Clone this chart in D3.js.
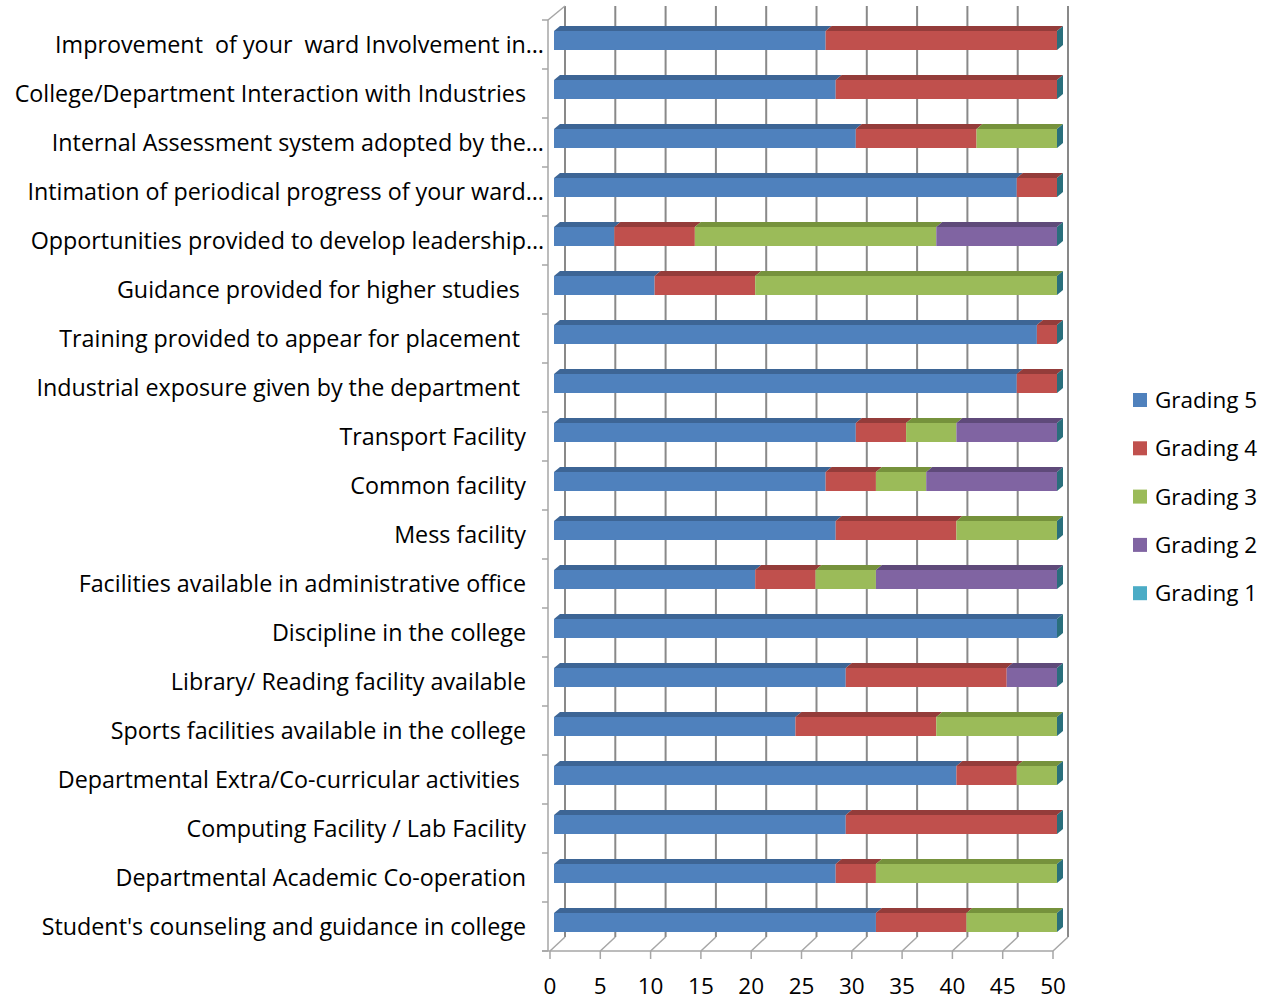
<!DOCTYPE html>
<html>
<head>
<meta charset="utf-8">
<script src="https://cdn.jsdelivr.net/npm/d3@7"></script>
<style>
  body { margin: 0; background: #fff; }
  text { font-family: "Open Sans", "Noto Sans", sans-serif; fill: #000; white-space: pre; }
</style>
</head>
<body>
<svg id="chart" width="1274" height="1001"></svg>
<script>
// categories, top to bottom as drawn
var categories = [
  "Improvement  of your  ward Involvement in\u2026",
  "College/Department Interaction with Industries",
  "Internal Assessment system adopted by the\u2026",
  "Intimation of periodical progress of your ward\u2026",
  "Opportunities provided to develop leadership\u2026",
  "Guidance provided for higher studies ",
  "Training provided to appear for placement ",
  "Industrial exposure given by the department ",
  "Transport Facility",
  "Common facility",
  "Mess facility",
  "Facilities available in administrative office",
  "Discipline in the college",
  "Library/ Reading facility available",
  "Sports facilities available in the college",
  "Departmental Extra/Co-curricular activities ",
  "Computing Facility / Lab Facility",
  "Departmental Academic Co-operation",
  "Student's counseling and guidance in college"
];

var seriesNames = ["Grading 5", "Grading 4", "Grading 3", "Grading 2", "Grading 1"];

var grading5 = [27, 28, 30, 46, 6, 10, 48, 46, 30, 27, 28, 20, 50, 29, 24, 40, 29, 28, 32];
var grading4 = [23, 22, 12, 4, 8, 10, 2, 4, 5, 5, 12, 6, 0, 16, 14, 6, 21, 4, 9];
var grading3 = [0, 0, 8, 0, 24, 30, 0, 0, 5, 5, 10, 6, 0, 0, 12, 4, 0, 18, 9];
var grading2 = [0, 0, 0, 0, 12, 0, 0, 0, 10, 13, 0, 18, 0, 5, 0, 0, 0, 0, 0];
var grading1 = [0, 0, 0, 0, 0, 0, 0, 0, 0, 0, 0, 0, 0, 0, 0, 0, 0, 0, 0];

var xTicks = [0, 5, 10, 15, 20, 25, 30, 35, 40, 45, 50];

var colors = ["#4f81bd", "#c0504d", "#9bbb59", "#8064a2", "#4bacc6"];
var topColors = ["#3d6595", "#943c3a", "#76923c", "#5f4a7a", "#31859c"];
var sideColor = "#2a6f7c";

var svg = d3.select("#chart");

// fake 3D geometry
var depthX = 15, depthY = -14;   // floor depth offset
var barOff = 4;                  // bar front face sits a bit into the depth
var barDX = 6, barDY = 5;
var barH = 19;

var x = d3.scaleLinear().domain([0, 50]).range([550, 1053]);
var y = d3.scaleBand().domain(categories).range([20, 951]);

var yTop = y.range()[0], yBot = y.range()[1];

// stacked table
var table = categories.map(function(c, i) {
  return {cat: c, "Grading 5": grading5[i], "Grading 4": grading4[i], "Grading 3": grading3[i],
          "Grading 2": grading2[i], "Grading 1": grading1[i]};
});
var stacked = d3.stack().keys(seriesNames)(table);

var gridColor = "#898989";
var axisColor = "#a6a6a6";

// back wall gridlines
svg.append("g").selectAll("line")
  .data(xTicks)
  .enter()
  .append("line")
  .attr("x1", function(d) { return x(d) + depthX; })
  .attr("x2", function(d) { return x(d) + depthX; })
  .attr("y1", yTop + depthY)
  .attr("y2", yBot + depthY)
  .style("stroke", gridColor)
  .style("stroke-width", 2);

// floor diagonals
svg.append("g").selectAll("line")
  .data(xTicks)
  .enter()
  .append("line")
  .attr("x1", function(d) { return x(d); })
  .attr("y1", yBot)
  .attr("x2", function(d) { return x(d) + depthX; })
  .attr("y2", yBot + depthY)
  .style("stroke", axisColor)
  .style("stroke-width", 1.5);

// left wall top edge
svg.append("line")
  .attr("x1", x(0) - 2).attr("y1", yTop)
  .attr("x2", x(0) + depthX).attr("y2", yTop + depthY)
  .style("stroke", axisColor).style("stroke-width", 1.5);

// category axis line + ticks
svg.append("line")
  .attr("x1", x(0) - 2).attr("x2", x(0) - 2)
  .attr("y1", yTop).attr("y2", yBot)
  .style("stroke", axisColor).style("stroke-width", 1.5);
var bounds = categories.map(function(c) { return y(c); }).concat([yBot]);
svg.append("g").selectAll("line")
  .data(bounds)
  .enter()
  .append("line")
  .attr("x1", x(0) - 8).attr("x2", x(0) - 2)
  .attr("y1", function(d) { return d; })
  .attr("y2", function(d) { return d; })
  .style("stroke", axisColor).style("stroke-width", 1.5);

// value axis line + ticks
svg.append("line")
  .attr("x1", x(0) - 8).attr("x2", x(50))
  .attr("y1", yBot).attr("y2", yBot)
  .style("stroke", axisColor).style("stroke-width", 1.5);
svg.append("g").selectAll("line")
  .data(xTicks)
  .enter()
  .append("line")
  .attr("x1", function(d) { return x(d); })
  .attr("x2", function(d) { return x(d); })
  .attr("y1", yBot).attr("y2", yBot + 8)
  .style("stroke", axisColor).style("stroke-width", 1.5);

svg.append("g").selectAll("text")
  .data(xTicks)
  .enter()
  .append("text")
  .attr("x", function(d) { return x(d); })
  .attr("y", 994)
  .attr("text-anchor", "middle")
  .style("font-size", "22.5px")
  .text(function(d) { return d; });

// category labels
svg.append("g").selectAll("text")
  .data(categories)
  .enter()
  .append("text")
  .attr("x", function(d) { return d.slice(-1) === "\u2026" ? 544 : 526; })
  .attr("y", function(d) { return y(d) + y.bandwidth() / 2 + 8; })
  .attr("text-anchor", "end")
  .style("font-size", "23.3px")
  .text(function(d) { return d; });

// bars
var bars = svg.append("g");
function barX(v) { return x(v) + barOff; }
function barY(c) { return y(c) + y.bandwidth() / 2 - barOff - barH / 2; }

stacked.forEach(function(layer, si) {
  var segs = layer.map(function(d, i) { return {x0: d[0], x1: d[1], cat: categories[i]}; })
    .filter(function(d) { return d.x1 > d.x0; });
  var g = bars.append("g");
  // top face
  g.selectAll("polygon.top")
    .data(segs)
    .enter()
    .append("polygon")
    .attr("class", "top")
    .attr("points", function(d) {
      var a = barX(d.x0), b = barX(d.x1), t = barY(d.cat);
      return [[a, t], [b, t], [b + barDX, t - barDY], [a + barDX, t - barDY]].join(" ");
    })
    .style("fill", topColors[si]);
  // front face
  g.selectAll("rect")
    .data(segs)
    .enter()
    .append("rect")
    .attr("x", function(d) { return barX(d.x0); })
    .attr("y", function(d) { return barY(d.cat); })
    .attr("width", function(d) { return barX(d.x1) - barX(d.x0); })
    .attr("height", barH)
    .style("fill", colors[si]);
});

// right end faces
var totals = categories.map(function(c, i) {
  return {cat: c, v: grading5[i] + grading4[i] + grading3[i] + grading2[i] + grading1[i]};
});
bars.append("g").selectAll("polygon")
  .data(totals)
  .enter()
  .append("polygon")
  .attr("points", function(d) {
    var b = barX(d.v), t = barY(d.cat);
    return [[b, t], [b + barDX, t - barDY], [b + barDX, t + barH - barDY], [b, t + barH]].join(" ");
  })
  .style("fill", sideColor);

// legend
var legend = svg.append("g").selectAll("g")
  .data(seriesNames)
  .enter()
  .append("g")
  .attr("transform", function(d, i) { return "translate(1133," + (400 + i * 48.3) + ")"; });
legend.append("rect")
  .attr("x", 0).attr("y", -7)
  .attr("width", 14).attr("height", 14)
  .style("fill", function(d, i) { return colors[i]; });
legend.append("text")
  .attr("x", 22).attr("y", 8)
  .style("font-size", "22.5px")
  .text(function(d) { return d; });
</script>
</body>
</html>
